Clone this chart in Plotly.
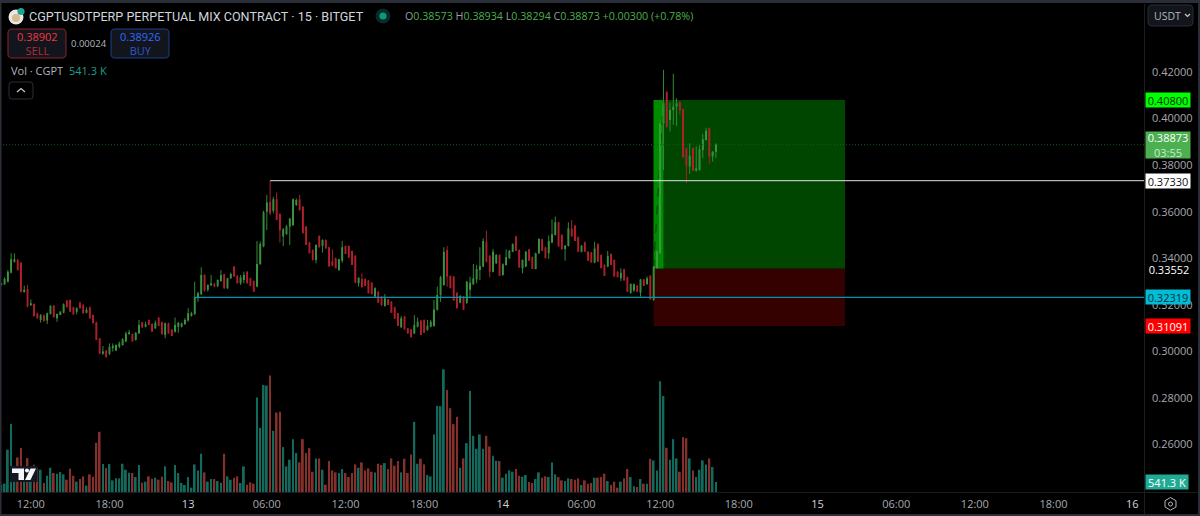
import numpy as np
import plotly.graph_objects as go

# 15-minute candles for CGPTUSDTPERP, prices given in units of 0.0001 USDT
opens_e4 = [
3285,3288,3299,3338,3385,3392,3381,3255,3268,3198,
3203,3162,3135,3155,3132,3160,3197,3142,3156,3166,
3218,3221,3189,3170,3209,3198,3166,3189,3156,3125,
3056,2991,3003,2989,3013,3003,3020,3027,3042,3074,
3074,3049,3077,3125,3106,3135,3117,3099,3145,3125,
3070,3120,3094,3084,3106,3106,3117,3132,3152,3160,
3228,3245,3328,3264,3284,3289,3281,3302,3331,3271,
3314,3364,3325,3292,3306,3342,3314,3302,3278,3375,
3450,3600,3643,3604,3653,3590,3493,3504,3536,3543,
3629,3653,3621,3536,3467,3435,3392,3496,3452,3478,
3447,3385,3400,3349,3389,3452,3452,3431,3410,3292,
3311,3311,3304,3295,3235,3256,3232,3195,3223,3213,
3189,3163,3103,3149,3099,3094,3077,3106,3132,3135,
3092,3106,3109,3178,3242,3285,3435,3324,3321,3252,
3209,3235,3209,3264,3288,3309,3349,3364,3471,3410,
3342,3378,3414,3328,3371,3400,3428,3493,3435,3357,
3364,3438,3404,3354,3421,3481,3446,3421,3467,3500,
3554,3500,3440,3452,3528,3540,3490,3428,3468,3428,
3424,3381,3461,3414,3371,3364,3418,3392,3342,3314,
3352,3318,3252,3261,3282,3252,3309,3289,3325,3221,
3358,3421,3980,4113,3994,4037,4052,4070,4040,3873,
3794,3873,3777,3779,3865,3908,3958,3837,3857.3]
highs_e4 = [
3295,3318,3349,3421,3421,3397,3381,3282,3285,3223,
3206,3166,3160,3158,3166,3198,3199,3163,3173,3206,
3221,3221,3192,3189,3213,3203,3189,3192,3158,3127,
3056,3023,3006,3034,3034,3030,3042,3056,3084,3092,
3077,3083,3135,3127,3127,3137,3120,3132,3146,3127,
3123,3123,3096,3145,3127,3123,3142,3185,3170,3299,
3256,3361,3331,3288,3328,3295,3309,3349,3333,3316,
3338,3366,3328,3328,3342,3345,3316,3304,3474,3471,
3604,3672,3733,3664,3683,3593,3530,3543,3571,3657,
3657,3672,3624,3538,3470,3438,3460,3497,3481,3481,
3450,3438,3403,3397,3474,3455,3455,3433,3413,3318,
3335,3314,3306,3297,3275,3258,3238,3246,3225,3216,
3192,3166,3152,3152,3100,3096,3155,3145,3135,3137,
3135,3135,3221,3278,3324,3447,3452,3326,3324,3254,
3242,3238,3302,3321,3375,3371,3447,3485,3518,3413,
3440,3418,3417,3378,3438,3435,3464,3496,3438,3395,
3431,3440,3407,3424,3485,3484,3449,3497,3567,3579,
3556,3503,3457,3554,3564,3542,3493,3457,3471,3431,
3427,3470,3464,3417,3374,3431,3421,3395,3345,3357,
3355,3321,3292,3291,3285,3311,3311,3321,3327,3366,
3435,3997,4209,4118,4069,4192,4087,4073,4042,3875,
3894,3875,3880,3887,3934,3961,3961,3860,3893.4]
lows_e4 = [
3282,3285,3296,3335,3381,3347,3253,3252,3189,3195,
3149,3139,3123,3127,3117,3158,3145,3127,3155,3163,
3188,3168,3156,3159,3184,3162,3163,3140,3120,3049,
2988,2984,2974,2984,2999,3001,3013,3024,3039,3070,
3042,3046,3074,3101,3103,3113,3084,3096,3109,3073,
3056,3077,3066,3080,3080,3103,3113,3127,3149,3156,
3213,3242,3256,3256,3281,3275,3275,3299,3268,3268,
3311,3320,3291,3285,3292,3291,3281,3256,3275,3371,
3447,3521,3586,3593,3564,3467,3452,3500,3457,3538,
3624,3604,3507,3457,3421,3390,3378,3446,3424,3442,
3364,3366,3357,3345,3381,3418,3402,3371,3295,3278,
3275,3281,3249,3245,3232,3209,3195,3192,3199,3166,
3140,3109,3100,3094,3077,3060,3074,3103,3070,3080,
3088,3103,3106,3175,3213,3282,3278,3271,3218,3185,
3206,3178,3203,3228,3285,3292,3306,3361,3382,3318,
3339,3375,3325,3325,3368,3397,3425,3431,3360,3335,
3361,3389,3354,3352,3418,3431,3400,3397,3464,3497,
3450,3438,3389,3450,3493,3474,3428,3425,3428,3389,
3381,3378,3385,3357,3324,3361,3371,3321,3318,3302,
3304,3256,3247,3256,3256,3235,3281,3285,3223,3216,
3355,3418,3779,3960,3944,3973,3968,4016,3830,3722,
3762,3773,3771,3776,3830,3905,3805,3815,3829.4]
closes_e4 = [
3292,3311,3342,3395,3395,3349,3256,3264,3192,3206,
3152,3142,3155,3130,3163,3195,3146,3160,3170,3202,
3189,3170,3159,3185,3185,3163,3178,3142,3120,3049,
2989,2999,2974,3020,3024,3027,3034,3052,3077,3082,
3042,3080,3113,3102,3116,3113,3084,3123,3109,3073,
3120,3077,3066,3113,3123,3120,3135,3163,3163,3232,
3249,3328,3261,3285,3292,3278,3306,3328,3271,3314,
3332,3321,3292,3318,3328,3292,3281,3256,3375,3461,
3597,3639,3593,3653,3564,3521,3524,3536,3571,3653,
3650,3607,3507,3457,3421,3392,3457,3447,3478,3442,
3364,3368,3357,3395,3447,3418,3402,3371,3295,3316,
3275,3281,3249,3245,3271,3209,3199,3228,3199,3166,
3140,3109,3142,3094,3077,3060,3113,3127,3070,3080,
3110,3127,3180,3242,3318,3428,3321,3271,3218,3185,
3238,3178,3299,3295,3314,3354,3367,3474,3385,3342,
3428,3414,3325,3374,3404,3432,3460,3431,3360,3392,
3428,3389,3354,3421,3483,3431,3400,3474,3503,3554,
3450,3438,3454,3528,3493,3474,3428,3454,3428,3389,
3381,3442,3385,3357,3324,3410,3371,3321,3318,3338,
3304,3256,3289,3288,3256,3309,3281,3314,3223,3364,
3429,3980,4066,3966,4037,4052,4066,4037,3835,3797,
3840,3775,3787,3868,3911,3948,3837,3857.3,3887.3]
# traded volume per candle, thousands of CGPT
volumes_k = [
396,450,2286,3690,990,1872,2376,1080,1836,900,
1476,1296,1206,486,882,1314,1026,990,1080,954,
666,1260,882,558,702,846,342,954,828,2664,
3258,1512,1296,1512,630,738,738,1530,1206,1044,
1026,810,1458,504,558,846,720,774,666,828,
1386,594,522,1458,1026,486,378,810,234,1494,
1170,2070,1062,558,702,702,594,504,2070,846,
666,774,846,486,1386,396,522,450,5112,3474,
5796,5760,6300,3312,4302,4338,2430,1386,1746,2862,
2106,1602,2862,2106,2376,1098,1818,1818,1206,396,
1674,1170,1062,1026,1242,1026,810,1026,1494,1314,
1602,1170,1278,1098,1062,1530,1458,1566,1242,1818,
1422,1674,1062,1800,1026,2034,3798,1530,1800,1494,
918,846,3114,4662,4644,6642,5526,4536,3672,4068,
1314,1818,2646,5472,3042,2340,3114,2340,3042,2466,
1962,1692,1674,774,990,1170,1098,1242,882,828,
918,540,486,702,1062,774,846,810,1602,954,
810,630,594,738,702,666,738,378,630,450,
486,774,774,810,990,594,378,558,234,558,
738,1242,810,306,270,702,450,450,1800,1710,
1170,5994,5202,2394,1746,2862,1818,1098,2970,2916,
1818,1170,810,1206,1710,1494,1818,1350,541.3]

# time axis: candle index of each labelled tick
tick_index = [9, 33, 57, 81, 105, 129, 153, 177, 201, 225, 249, 273, 297, 321, 345]
tick_labels = ["12:00", "18:00", "13", "06:00", "12:00", "18:00", "14", "06:00",
               "12:00", "18:00", "15", "06:00", "12:00", "18:00", "16"]
price_ticks = [0.26, 0.28, 0.30, 0.32, 0.34, 0.36, 0.38, 0.40, 0.42]

# position tool and level prices
TARGET = 0.40800
ENTRY = 0.33552
STOP = 0.31091
LAST = 0.38873
RESISTANCE = 0.37330
SUPPORT = 0.32319
VOL_LAST_K = 541.3
POS_START, POS_END, POS_HIT = 199, 257.4, 202
RESISTANCE_START, SUPPORT_START = 82, 59

W, H = 1200, 516
PL, PR, PT, PB = 0, 1144, 4, 492
FONT = "Open Sans"

opens = np.array(opens_e4) / 1e4
highs = np.array(highs_e4) / 1e4
lows = np.array(lows_e4) / 1e4
closes = np.array(closes_e4) / 1e4
idx = np.arange(len(closes))
rising = closes >= opens

UP, DOWN = "#4caf50", "#d0222f"
UP_WICK, DOWN_WICK = "#2f8a36", "#a3212c"
VOL_UP, VOL_DOWN = "#136a5c", "#86302c"


def px(x):
    return (x - PL) / (PR - PL)


def py(y):
    return (PB - y) / (PB - PT)


def box(x0, y0, x1, y1, fill, line=None, r=0, lw=1):
    """Layout-panel rectangle given in page pixels, optionally with rounded corners."""
    if r:
        xs = lambda v: f"{px(v):.5f}"
        ys = lambda v: f"{py(v):.5f}"
        path = (f"M{xs(x0+r)},{ys(y0)} L{xs(x1-r)},{ys(y0)} Q{xs(x1)},{ys(y0)} {xs(x1)},{ys(y0+r)} "
                f"L{xs(x1)},{ys(y1-r)} Q{xs(x1)},{ys(y1)} {xs(x1-r)},{ys(y1)} "
                f"L{xs(x0+r)},{ys(y1)} Q{xs(x0)},{ys(y1)} {xs(x0)},{ys(y1-r)} "
                f"L{xs(x0)},{ys(y0+r)} Q{xs(x0)},{ys(y0)} {xs(x0+r)},{ys(y0)} Z")
        return dict(type="path", path=path, xref="paper", yref="paper", fillcolor=fill,
                    line=dict(color=line or fill, width=lw if line else 0), layer="above")
    return dict(type="rect", xref="paper", yref="paper", x0=px(x0), x1=px(x1), y0=py(y0), y1=py(y1),
                fillcolor=fill, line=dict(color=line or fill, width=lw if line else 0), layer="above")


def poly(points, fill=None, line=None, lw=1, close=True):
    d = "M" + " L".join(f"{px(a):.5f},{py(b):.5f}" for a, b in points) + (" Z" if close else "")
    return dict(type="path", path=d, xref="paper", yref="paper", fillcolor=fill or "rgba(0,0,0,0)",
                line=dict(color=line or "rgba(0,0,0,0)", width=lw), layer="above")


def circle(cx, cy, r, fill, line=None, lw=1):
    return dict(type="circle", xref="paper", yref="paper", x0=px(cx - r), x1=px(cx + r),
                y0=py(cy + r), y1=py(cy - r), fillcolor=fill,
                line=dict(color=line or fill, width=lw if line else 0), layer="above")


def text(x, y, s, size=11, color="#b2b5be", anchor="left", family=FONT):
    return dict(xref="paper", yref="paper", x=px(x), y=py(y), text=s, showarrow=False,
                xanchor=anchor, yanchor="middle", align=anchor,
                font=dict(family=family, size=size, color=color))


def tag(value, s, bg, fg, h=14, yref="y", w=44):
    return dict(xref="paper", yref=yref, x=px(1145), y=value, text=s, showarrow=False, xanchor="left",
                yanchor="middle", width=w, height=h, bgcolor=bg, borderpad=0, align="center",
                font=dict(family=FONT, size=11, color=fg))


fig = go.Figure()

# volume pane
fig.add_trace(go.Bar(x=idx, y=volumes_k, yaxis="y2", width=0.55,
                     marker=dict(color=[VOL_UP if r else VOL_DOWN for r in rising], line=dict(width=0)),
                     hoverinfo="skip"))


def wick_path(mask):
    xs, ys = [], []
    for i in idx[mask]:
        xs += [i, i, None]
        ys += [lows[i], highs[i], None]
    return xs, ys


# wicks sit under the brighter candle bodies
for mask, colour in ((rising, UP_WICK), (~rising, DOWN_WICK)):
    wx, wy = wick_path(mask)
    fig.add_trace(go.Scatter(x=wx, y=wy, mode="lines", line=dict(color=colour, width=1), hoverinfo="skip"))

body_hi = np.maximum(opens, closes)
body_lo = np.minimum(opens, closes)
fig.add_trace(go.Candlestick(x=idx, open=opens, high=body_hi, low=body_lo, close=closes, whiskerwidth=0,
                             increasing=dict(line=dict(color=UP, width=0), fillcolor=UP),
                             decreasing=dict(line=dict(color=DOWN, width=0), fillcolor=DOWN),
                             hoverinfo="skip"))

shapes = [
    # position tool zones
    dict(type="rect", xref="x", yref="y", x0=POS_START, x1=POS_END, y0=ENTRY, y1=TARGET,
         fillcolor="#004500", line=dict(width=0), layer="below"),
    dict(type="rect", xref="x", yref="y", x0=POS_START, x1=POS_HIT, y0=ENTRY, y1=TARGET,
         fillcolor="#008a00", line=dict(width=0), layer="below"),
    dict(type="rect", xref="x", yref="y", x0=POS_START, x1=POS_END, y0=STOP, y1=ENTRY,
         fillcolor="#350000", line=dict(width=0), layer="below"),
    dict(type="line", xref="x", yref="y", x0=POS_START, x1=POS_HIT, y0=ENTRY, y1=TARGET,
         line=dict(color="#063c06", width=1, dash="dash"), layer="below"),
    # horizontal levels
    dict(type="line", xref="paper", yref="y", x0=0, x1=1, y0=LAST, y1=LAST,
         line=dict(color="#1a5c1f", width=1, dash="1px,2px"), layer="above"),
    dict(type="line", xref="x", yref="y", x0=RESISTANCE_START, x1=349, y0=RESISTANCE, y1=RESISTANCE,
         line=dict(color="#e2e2e2", width=1), layer="above"),
    dict(type="line", xref="x", yref="y", x0=SUPPORT_START, x1=349, y0=SUPPORT, y1=SUPPORT,
         line=dict(color="#0097ad", width=1.2), layer="above"),
    # pane separators and outer frame
    box(0, 492, 1144, 493, "#1b1d23"),
    box(1144, 4, 1145, 516, "#1b1d23"),
    box(1145, 492, 1198, 493, "#1b1d23"),
    box(0, 0, W, 3, "#2a2e39"),
    box(0, 0, 1.5, H, "#2a2e39"),
    box(0, 514, W, H, "#2a2e39"),
    box(1198, 0, W, H, "#2a2e39"),
    # order buttons
    box(8, 29, 66, 58, "#12151c", "#8f2232", r=4, lw=1),
    box(111, 29, 169, 58, "#12151c", "#1d3f8c", r=4, lw=1),
    # collapse button
    box(9, 82, 33, 99, "#000000", "#2a2e39", r=3, lw=1),
    poly([(17, 92), (21, 88.5), (25, 92)], line="#c8c8c8", lw=1.2, close=False),
    # currency selector
    box(1148, 5, 1193, 26, "#12151c", "#2a2e39", r=4, lw=1),
    poly([(1185, 14), (1187.5, 16.5), (1190, 14)], line="#c8c8c8", lw=1.2, close=False),
    # symbol badge
    circle(16, 17, 7.5, "#e8e8e8"),
    circle(16, 18, 4, "#d9b98a"),
    circle(21, 11.5, 3.6, "#1fa58f"),
    # live status dot
    circle(383, 16, 7.5, "#0a2a26"),
    circle(383, 16, 3.6, "#089981"),
    # settings hexagon
    poly([(1170.5, 497.5), (1176, 500.7), (1176, 507), (1170.5, 510.2), (1165, 507), (1165, 500.7)],
         line="#b2b5be", lw=1),
    circle(1170.5, 504, 2, "rgba(0,0,0,0)", "#b2b5be", 1),
    # watermark logo
    box(10, 466, 37.5, 482, "#131722"),
    poly([(12, 468.5), (24, 468.5), (24, 480), (18.5, 480), (18.5, 473), (12, 473)], fill="#f5f6f9"),
    circle(27, 470.5, 2.1, "#f5f6f9"),
    poly([(30.5, 468.5), (36, 468.5), (30.5, 480), (25, 480)], fill="#f5f6f9"),
]

G = "#4caf50"
GREY = "#9a9ca3"
ohlc = (f'<span style="color:{GREY}">O</span>0.38573 <span style="color:{GREY}">H</span>0.38934 '
        f'<span style="color:{GREY}">L</span>0.38294 <span style="color:{GREY}">C</span>0.38873 '
        f'+0.00300 (+0.78%)')

annotations = [
    text(27, 16, "CGPTUSDTPERP PERPETUAL MIX CONTRACT · 15 · BITGET", 12.6, "#d1d4dc", family="Roboto"),
    text(403, 16, ohlc, 10.7, G),
    text(37, 44, '<span style="color:#f23645">0.38902</span><br><span style="color:#b8293a">SELL</span>',
         11, "#f23645", "center"),
    text(140, 44, '<span style="color:#2f6bff">0.38926</span><br><span style="color:#2a58c8">BUY</span>',
         11, "#2f6bff", "center"),
    text(88.5, 43, "0.00024", 9.5, "#b2b5be", "center"),
    text(9, 71, "Vol · CGPT", 11, "#b2b5be"),
    text(67, 71, "541.3 K", 11, "#1e9e8b"),
    text(1152, 16, "USDT", 10.5, "#b2b5be"),
    tag(TARGET, f"{TARGET:.5f}", "#00ff00", "#063006"),
    tag(LAST, f'{LAST:.5f}<br><span style="color:#cfe8d0">03:55</span>', "#4caf50", "#ffffff", h=26),
    tag(RESISTANCE, f"{RESISTANCE:.5f}", "#ffffff", "#111111"),
    tag(SUPPORT, f"{SUPPORT:.5f}", "#00bcd4", "#063040"),
    tag(STOP, f"{STOP:.5f}", "#ff0000", "#ffffff"),
    dict(xref="paper", yref="y", x=px(1145), y=ENTRY, text=f"{ENTRY:.5f}", showarrow=False, xanchor="left",
         yanchor="middle", width=44, height=12, align="center",
         font=dict(family=FONT, size=11, color="#ffffff")),
    tag(VOL_LAST_K, f"{VOL_LAST_K} K", "#22ab94", "#ffffff", yref="y2", w=42),
]

# price at the top and bottom of the pane follows the 0.02-per-46.55-px tick spacing
price_per_px = 0.02 / 46.55
price_top = 0.42 + (72 - PT) * price_per_px
price_bottom = 0.42 - (PB - 72) * price_per_px
vol_per_px = VOL_LAST_K / 10.0

ticktext = [f'<span style="color:#d1d4dc">{t}</span>' if ":" not in t else t for t in tick_labels]

fig.update_layout(
    width=W, height=H, margin=dict(l=PL, r=W - PR, t=PT, b=H - PB, pad=0),
    paper_bgcolor="#000000", plot_bgcolor="#000000", showlegend=False, boxmode="overlay", boxgap=0.22,
    barmode="overlay", dragmode=False, hovermode=False,
    xaxis=dict(range=[(PL - 1.3) / 3.278, (PR - 1.3) / 3.278], rangeslider=dict(visible=False),
               tickmode="array", tickvals=tick_index, ticktext=ticktext, showgrid=False, zeroline=False,
               showline=False, ticks="", ticklabelstandoff=4,
               tickfont=dict(family=FONT, size=11, color="#a6a8af")),
    yaxis=dict(range=[price_bottom, price_top], side="right", tickmode="array", tickvals=price_ticks,
               tickformat=".5f", showgrid=False, zeroline=False, showline=False, ticks="", ticklabelstandoff=7,
               tickfont=dict(family=FONT, size=11, color="#a6a8af")),
    yaxis2=dict(range=[0, (PB - PT) * vol_per_px], overlaying="y", side="left", visible=False),
    shapes=shapes, annotations=annotations,
)

fig.write_html("out.html", config=dict(displayModeBar=False, responsive=False))
